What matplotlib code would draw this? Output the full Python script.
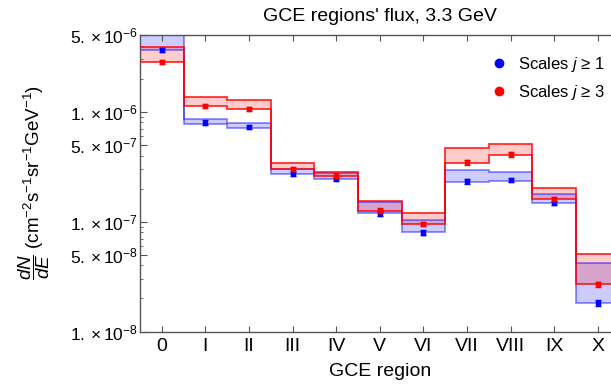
import matplotlib
matplotlib.use("Agg")
import matplotlib.pyplot as plt
from matplotlib.lines import Line2D
from matplotlib.ticker import FixedLocator, LogLocator, NullFormatter
import numpy as np

plt.rcParams['font.family'] = ['Liberation Sans', 'DejaVu Sans']
plt.rcParams['mathtext.fontset'] = 'custom'
plt.rcParams['mathtext.rm'] = 'Liberation Sans'
plt.rcParams['mathtext.it'] = 'Liberation Sans:italic'
plt.rcParams['mathtext.bf'] = 'Liberation Sans:bold'

# GCE regions
regions = ['0', 'I', 'II', 'III', 'IV', 'V', 'VI', 'VII', 'VIII', 'IX', 'X']

# Flux bands (cm^-2 s^-1 sr^-1 GeV^-1)
j1_band_lower = [3.68e-6, 7.74e-7, 7.06e-7, 2.71e-7, 2.47e-7, 1.196e-7, 8.02e-8, 2.29e-7, 2.35e-7, 1.474e-7, 1.81e-8]
j1_band_upper = [5.6e-6, 8.65e-7, 7.91e-7, 3.03e-7, 2.745e-7, 1.515e-7, 1.039e-7, 2.97e-7, 2.83e-7, 1.78e-7, 4.18e-8]
j3_band_lower = [2.84e-6, 1.12e-6, 1.06e-6, 3.01e-7, 2.63e-7, 1.246e-7, 9.55e-8, 3.415e-7, 4.06e-7, 1.604e-7, 2.69e-8]
j3_band_upper = [3.86e-6, 1.353e-6, 1.289e-6, 3.385e-7, 2.84e-7, 1.547e-7, 1.196e-7, 4.68e-7, 5.09e-7, 2.02e-7, 5.06e-8]

# Point estimates with errors
j1_flux = [3.66e-6, 7.96e-7, 7.27e-7, 2.71e-7, 2.44e-7, 1.186e-7, 7.96e-8, 2.32e-7, 2.39e-7, 1.474e-7, 1.81e-8]
j1_err = [1.8e-7, 3.9e-8, 3.6e-8, 1.3e-8, 1.2e-8, 5.9e-9, 4.3e-9, 1.1e-8, 1.1e-8, 7.0e-9, 1.15e-9]
j3_flux = [2.84e-6, 1.137e-6, 1.06e-6, 3.03e-7, 2.63e-7, 1.262e-7, 9.55e-8, 3.457e-7, 4.09e-7, 1.604e-7, 2.69e-8]
j3_err = [1.4e-7, 5.2e-8, 4.8e-8, 1.4e-8, 1.2e-8, 5.8e-9, 4.4e-9, 1.6e-8, 1.9e-8, 7.4e-9, 1.6e-9]

ytick_values = [1e-8, 5e-8, 1e-7, 5e-7, 1e-6, 5e-6]
ytick_labels = [r'$1.\times10^{-8}$', r'$5.\times10^{-8}$', r'$1.\times10^{-7}$',
                r'$5.\times10^{-7}$', r'$1.\times10^{-6}$', r'$5.\times10^{-6}$']

W, H = 611, 387
fig = plt.figure(figsize=(W / 100, H / 100), dpi=100)
unit = 43.6
ax_top, ax_bottom = 35, 331.5
ax = fig.add_axes([140 / W, (H - ax_bottom) / H, 11 * unit / W, (ax_bottom - ax_top) / H])

x = np.arange(len(regions))
edges = np.arange(len(regions) + 1) - 0.5

blue = '#0000ff'
red = '#ff0000'

ax.stairs(j1_band_upper, edges, baseline=j1_band_lower, fill=True,
          color=blue, alpha=0.2, lw=0, zorder=1)
ax.stairs(j3_band_upper, edges, baseline=j3_band_lower, fill=True,
          color=red, alpha=0.2, lw=0, zorder=1)
for vals in (j1_band_upper, j1_band_lower):
    ax.stairs(vals, edges, baseline=None, color=blue, alpha=0.45, lw=1.3, zorder=2)
for vals in (j3_band_upper, j3_band_lower):
    ax.stairs(vals, edges, baseline=None, color=red, alpha=0.8, lw=1.3, zorder=3)

ax.errorbar(x, j1_flux, yerr=j1_err, fmt='s', color=blue, ms=3.2,
            capsize=2, elinewidth=1, capthick=1, zorder=4)
ax.errorbar(x, j3_flux, yerr=j3_err, fmt='s', color=red, ms=3.2,
            capsize=2, elinewidth=1, capthick=1, zorder=5)

ax.set_yscale('log')
ax.set_ylim(1e-8, 5e-6)
ax.set_xlim(-0.5, 10.5)

ax.yaxis.set_major_locator(FixedLocator(ytick_values))
ax.set_yticklabels(ytick_labels)
ax.yaxis.set_minor_locator(LogLocator(base=10, subs=np.arange(1, 10)))
ax.yaxis.set_minor_formatter(NullFormatter())
ax.set_xticks(x)
ax.set_xticklabels(regions)

spine_col = '#555555'
for s in ax.spines.values():
    s.set_color(spine_col)
    s.set_linewidth(1.0)
ax.tick_params(axis='both', which='both', direction='in', color=spine_col,
               top=True, right=False)
ax.tick_params(axis='x', which='major', length=4, labelsize=14, pad=4.5)
ax.tick_params(axis='y', which='major', length=5, labelsize=12.5, pad=1.5)
ax.tick_params(axis='y', which='minor', length=2.5)

ax.set_xlabel('GCE region', fontsize=14, labelpad=6)
ax.set_title("GCE regions' flux, 3.3 GeV", fontsize=14, pad=10)

fig.text(34 / W, 1 - 183 / H,
         r'$\dfrac{dN}{dE}$ (cm$^{-2}$s$^{-1}$sr$^{-1}$GeV$^{-1}$)',
         rotation=90, ha='center', va='center', fontsize=13.5)

handles = [Line2D([], [], ls='none', marker='o', color=blue, ms=6),
           Line2D([], [], ls='none', marker='o', color=red, ms=6)]
ax.legend(handles, [r'Scales $j$ ≥ 1', r'Scales $j$ ≥ 3'],
          loc='upper left', bbox_to_anchor=(490.7 / W, 1 - 54.8 / H),
          bbox_transform=fig.transFigure, frameon=False, fontsize=12,
          handlelength=1.0, handletextpad=0.63, labelspacing=0.55,
          borderpad=0, borderaxespad=0)

fig.savefig('out.png', dpi=100)
